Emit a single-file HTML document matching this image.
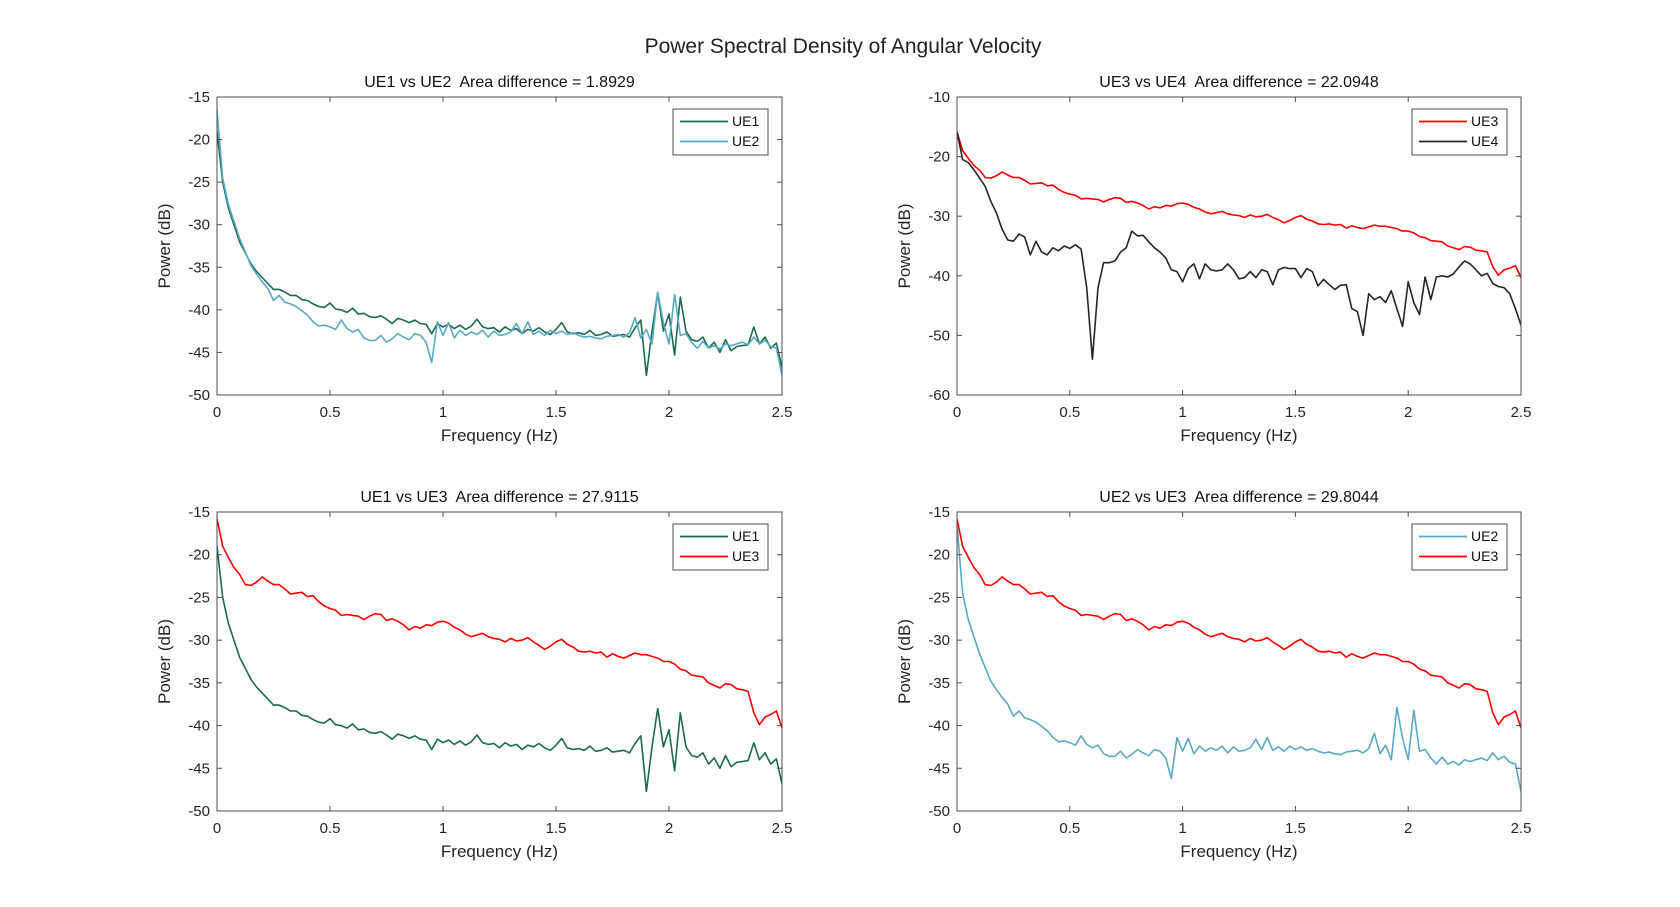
<!DOCTYPE html>
<html><head><meta charset="utf-8"><style>
html,body{margin:0;padding:0;background:#fff;}
svg{display:block;font-family:"Liberation Sans",Arial,sans-serif;}
text{white-space:pre;}
</style></head><body>
<svg id="fig" width="1680" height="907" viewBox="0 0 1680 907">
<rect width="1680" height="907" fill="#fff"/>
<text x="843" y="53" font-size="21" text-anchor="middle" fill="#222">Power Spectral Density of Angular Velocity</text>
</svg>
<script>
const freqStep = 0.025;
const ue1 = [-19,-25,-28,-30,-32,-33.3,-34.6,-35.5,-36.2,-36.9,-37.6,-37.6,-37.9,-38.3,-38.3,-38.8,-38.9,-39.3,-39.6,-39.7,-39.2,-39.9,-40.0,-40.3,-39.8,-40.5,-40.4,-40.8,-40.9,-40.7,-41.1,-41.6,-41.0,-41.2,-41.5,-41.2,-41.6,-41.7,-42.8,-41.6,-42.0,-41.7,-42.2,-41.8,-42.3,-41.9,-41.1,-42.0,-42.2,-42.1,-42.6,-42.0,-42.4,-42.2,-42.8,-42.3,-42.5,-42.1,-42.6,-42.9,-42.3,-41.5,-42.6,-42.8,-42.7,-42.9,-42.4,-43.0,-42.9,-42.6,-43.1,-43.0,-42.9,-43.2,-42.1,-41.2,-47.7,-42.5,-38.0,-42.5,-40.5,-45.3,-38.5,-42.5,-43.5,-43.7,-43.2,-44.5,-43.8,-45.0,-43.5,-44.8,-44.3,-44.2,-44.1,-42.0,-44.0,-43.2,-44.5,-43.9,-46.8];
const ue2 = [-16.5,-24.5,-27.6,-29.6,-31.6,-33.2,-34.8,-35.8,-36.7,-37.5,-38.9,-38.3,-39.1,-39.3,-39.6,-40.1,-40.6,-41.4,-41.9,-41.8,-42.0,-42.3,-41.2,-42.2,-42.6,-42.3,-43.3,-43.6,-43.6,-43.0,-43.8,-43.4,-42.8,-43.2,-43.5,-42.8,-43.0,-43.8,-46.2,-41.4,-43.0,-41.5,-43.3,-42.4,-43.0,-42.6,-42.9,-42.4,-43.2,-42.5,-43.0,-42.9,-42.6,-41.6,-42.8,-41.4,-42.9,-42.5,-43.0,-42.4,-42.8,-42.5,-42.9,-42.7,-43.0,-43.2,-43.1,-43.3,-43.4,-43.1,-43.0,-42.9,-43.2,-42.7,-40.9,-43.3,-42.3,-44.0,-37.9,-41.5,-44.0,-38.2,-43.0,-42.8,-43.8,-44.5,-43.7,-44.5,-44.2,-44.6,-44.0,-44.2,-44.0,-43.8,-44.1,-43.2,-44.0,-43.6,-44.3,-44.5,-47.7];
const ue3 = [-15.8,-19.0,-20.3,-21.5,-22.3,-23.5,-23.6,-23.2,-22.6,-23.1,-23.5,-23.5,-24.0,-24.6,-24.5,-24.4,-24.9,-24.8,-25.5,-26.0,-26.3,-26.5,-27.1,-27.0,-27.1,-27.2,-27.6,-27.2,-26.9,-27.0,-27.7,-27.5,-27.8,-28.2,-28.8,-28.4,-28.6,-28.2,-28.3,-27.9,-27.8,-28.0,-28.5,-28.8,-29.3,-29.6,-29.4,-29.2,-29.6,-29.8,-29.9,-30.2,-29.8,-30.1,-30.0,-29.7,-30.2,-30.6,-31.1,-30.7,-30.2,-29.9,-30.5,-30.8,-31.3,-31.4,-31.3,-31.5,-31.4,-32.0,-31.6,-31.9,-32.1,-31.8,-31.5,-31.7,-31.7,-31.9,-32.1,-32.5,-32.5,-32.8,-33.4,-33.6,-34.1,-34.2,-34.3,-35.0,-35.3,-35.6,-35.1,-35.2,-35.7,-35.8,-36.0,-38.5,-39.9,-39.0,-38.7,-38.3,-40.3];
const ue4 = [-15.8,-20.5,-21.0,-22.2,-23.6,-25.0,-27.5,-29.5,-32.2,-34.0,-34.2,-33.0,-33.5,-36.5,-34.2,-36.0,-36.5,-35.3,-35.8,-35.0,-35.4,-34.8,-35.5,-42.0,-54.0,-42.0,-37.8,-37.8,-37.5,-36.0,-35.3,-32.5,-33.3,-33.2,-34.3,-35.3,-36.0,-37.0,-39.0,-39.3,-41.0,-38.8,-38.0,-40.5,-38.0,-39.0,-39.2,-39.0,-38.0,-39.0,-40.5,-40.3,-39.3,-40.3,-39.0,-39.3,-41.5,-39.0,-38.6,-38.8,-38.8,-40.3,-38.8,-39.3,-41.7,-40.6,-41.5,-42.3,-41.6,-41.5,-45.5,-46.0,-50.0,-43.0,-44.0,-43.5,-44.5,-42.5,-45.5,-48.5,-41.0,-44.5,-46.5,-40.2,-44.0,-40.2,-40.0,-40.2,-39.7,-38.5,-37.5,-38.0,-39.0,-40.0,-39.6,-41.3,-41.8,-42.0,-43.0,-45.5,-48.3];
const xTicks = [0,0.5,1,1.5,2,2.5];
const xTickLabels = ["0","0.5","1","1.5","2","2.5"];
const yTicksA = [-50,-45,-40,-35,-30,-25,-20,-15];
const yTicksB = [-60,-50,-40,-30,-20,-10];
const titles = ["UE1 vs UE2  Area difference = 1.8929","UE3 vs UE4  Area difference = 22.0948","UE1 vs UE3  Area difference = 27.9115","UE2 vs UE3  Area difference = 29.8044"];

const C1="#1c6b50", C2="#5aaac6", C3="#ff0000", C4="#262626";
const NS="http://www.w3.org/2000/svg";
const svg=document.getElementById('fig');
function mk(tag,attrs,parent){const e=document.createElementNS(NS,tag);for(const k in attrs)e.setAttribute(k,attrs[k]);(parent||svg).appendChild(e);return e;}

const panels=[
 {x:217,y:97,w:565,h:298,ymin:-50,ymax:-15,yt:yTicksA,series:[[ue1,C1,"UE1"],[ue2,C2,"UE2"]],title:titles[0],key:"ue1-vs-ue2"},
 {x:957,y:97,w:564,h:298,ymin:-60,ymax:-10,yt:yTicksB,series:[[ue3,C3,"UE3"],[ue4,C4,"UE4"]],title:titles[1],key:"ue3-vs-ue4"},
 {x:217,y:512,w:565,h:299,ymin:-50,ymax:-15,yt:yTicksA,series:[[ue1,C1,"UE1"],[ue3,C3,"UE3"]],title:titles[2],key:"ue1-vs-ue3"},
 {x:957,y:512,w:564,h:299,ymin:-50,ymax:-15,yt:yTicksA,series:[[ue2,C2,"UE2"],[ue3,C3,"UE3"]],title:titles[3],key:"ue2-vs-ue3"}
];

panels.forEach(p=>{
 const g=mk('g',{});
 
 
 const sx=f=>p.x+f/2.5*p.w;
 const sy=v=>p.y+(p.ymax-v)/(p.ymax-p.ymin)*p.h;
 const clipId='clip-'+p.key;
 const cp=mk('clipPath',{id:clipId},g);
 mk('rect',{x:p.x,y:p.y,width:p.w,height:p.h},cp);
 p.series.forEach(s=>{
  const pts=s[0].map((v,i)=>sx(i*freqStep).toFixed(1)+','+sy(v).toFixed(1)).join(' ');
  const pl=mk('polyline',{points:pts,fill:'none',stroke:s[1],'stroke-width':1.6,'stroke-linejoin':'round','clip-path':'url(#'+clipId+')'},g);
  
  
 });
 const fr=mk('rect',{x:p.x,y:p.y,width:p.w,height:p.h,fill:'none',stroke:'#4d4d4d','stroke-width':1},g);
 
 
 xTicks.forEach((t,i)=>{
  const X=sx(t);
  mk('line',{x1:X,y1:p.y+p.h,x2:X,y2:p.y+p.h-5,stroke:'#4d4d4d'},g);
  mk('line',{x1:X,y1:p.y,x2:X,y2:p.y+5,stroke:'#4d4d4d'},g);
  const tx=mk('text',{x:X,y:p.y+p.h+22,'font-size':15,'text-anchor':'middle',fill:'#262626'},g);
  tx.textContent=xTickLabels[i];
  
  
 });
 p.yt.forEach(t=>{
  const Y=sy(t);
  mk('line',{x1:p.x,y1:Y,x2:p.x+5,y2:Y,stroke:'#4d4d4d'},g);
  mk('line',{x1:p.x+p.w,y1:Y,x2:p.x+p.w-5,y2:Y,stroke:'#4d4d4d'},g);
  const ty=mk('text',{x:p.x-7,y:Y+5,'font-size':15,'text-anchor':'end',fill:'#262626'},g);
  ty.textContent=String(t);
  
  
 });
 const xl=mk('text',{x:p.x+p.w/2,y:p.y+p.h+46,'font-size':17,'text-anchor':'middle',fill:'#262626'},g);
 xl.textContent='Frequency (Hz)';
 
 
 const yl=mk('text',{x:0,y:0,'font-size':17,'text-anchor':'middle',fill:'#262626',transform:'translate('+(p.x-47)+','+(p.y+p.h/2)+') rotate(-90)'},g);
 yl.textContent='Power (dB)';
 
 
 const tt=mk('text',{x:p.x+p.w/2,y:p.y-10,'font-size':16,'text-anchor':'middle',fill:'#111'},g);
 tt.textContent=p.title;
 
 
 const lx=p.x+p.w-109, ly=p.y+12;
 const lg=mk('g',{},g);
 
 
 mk('rect',{x:lx,y:ly,width:95,height:46,fill:'#fff',stroke:'#4d4d4d','stroke-width':1},lg);
 p.series.forEach((s,i)=>{
  const yy=ly+12+i*20;
  mk('line',{x1:lx+7,y1:yy+0.5,x2:lx+55,y2:yy+0.5,stroke:s[1],'stroke-width':1.8},lg);
  const lt=mk('text',{x:lx+59,y:yy+5,'font-size':14,fill:'#111'},lg);
  lt.textContent=s[2];
  
  
 });
});
</script>
</body></html>
